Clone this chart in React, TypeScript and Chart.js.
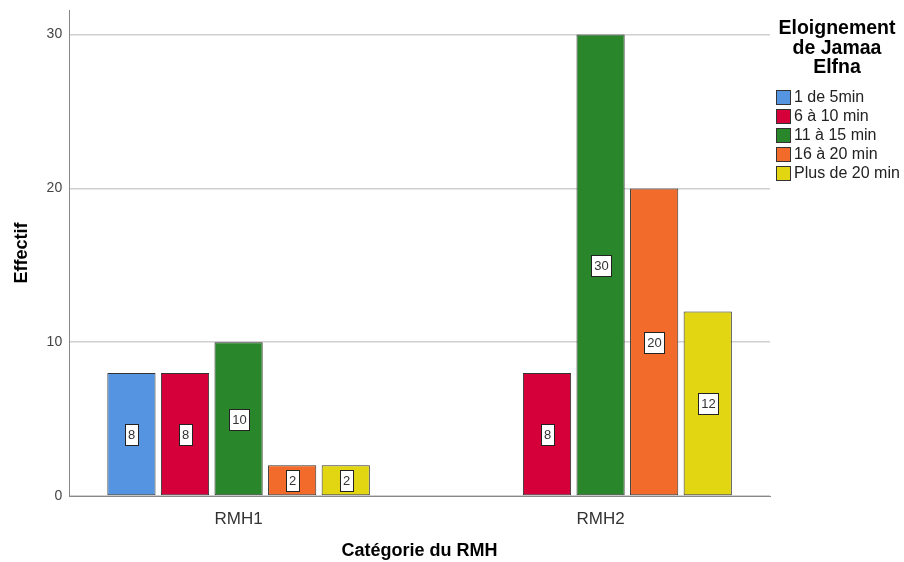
import React, { useEffect, useRef } from "react";
import { Chart, registerables } from "chart.js";

Chart.register(...registerables);

const categories = ["RMH1", "RMH2"];
const seriesNames = ["1 de 5min", "6 à 10 min", "11 à 15 min", "16 à 20 min", "Plus de 20 min"];
const series1 = [8, null];
const series2 = [8, 8];
const series3 = [10, 30];
const series4 = [2, 20];
const series5 = [2, 12];
const yTicks = [0, 10, 20, 30];
const legendTitle = ["Eloignement", "de Jamaa", "Elfna"];
const colors = ["#5594E0", "#D5003A", "#2A862A", "#F36B2B", "#E2D613"];

const FONT = "'Liberation Sans', Arial, sans-serif";

const valueLabelPlugin = {
  id: "valueLabels",
  afterDatasetsDraw(chart: any) {
    const ctx = chart.ctx;
    ctx.save();
    ctx.font = `13px ${FONT}`;
    ctx.textAlign = "center";
    ctx.textBaseline = "middle";
    chart.data.datasets.forEach((ds: any, i: number) => {
      const meta = chart.getDatasetMeta(i);
      meta.data.forEach((el: any, j: number) => {
        const v = ds.data[j];
        if (v === null || v === undefined) return;
        const txt = String(v);
        const w = Math.round(ctx.measureText(txt).width + 6);
        const h = 21;
        const cx = Math.round(el.x);
        const cy = Math.round((el.y + el.base) / 2);
        const x0 = Math.round(cx - w / 2);
        const y0 = Math.round(cy - h / 2);
        ctx.fillStyle = "#ffffff";
        ctx.fillRect(x0, y0, w, h);
        ctx.strokeStyle = "#222";
        ctx.lineWidth = 1;
        ctx.strokeRect(x0 + 0.5, y0 + 0.5, w, h);
        ctx.fillStyle = "#333";
        ctx.fillText(txt, cx + 0.5, cy + 1.5);
      });
    });
    ctx.restore();
  },
};

const legendPlugin = {
  id: "customLegend",
  afterDraw(chart: any) {
    const ctx = chart.ctx;
    ctx.save();
    ctx.fillStyle = "#000";
    ctx.font = `bold 19.5px ${FONT}`;
    ctx.textAlign = "center";
    ctx.textBaseline = "middle";
    const cx = 837;
    legendTitle.forEach((t, i) => ctx.fillText(t, cx, 29 + i * 19.5));
    ctx.font = `16px ${FONT}`;
    ctx.textAlign = "left";
    seriesNames.forEach((n, i) => {
      const y = 97 + i * 19;
      ctx.fillStyle = colors[i];
      ctx.fillRect(776, y - 7, 15, 15);
      ctx.strokeStyle = "#333";
      ctx.lineWidth = 1;
      ctx.strokeRect(776.5, y - 6.5, 14, 14);
      ctx.fillStyle = "#222";
      ctx.fillText(n, 794, y + 1);
    });
    ctx.restore();
  },
};

export default function App() {
  const ref = useRef<HTMLCanvasElement>(null);
  useEffect(() => {
    const values = [series1, series2, series3, series4, series5];
    const chart = new Chart(ref.current!, {
      type: "bar",
      data: {
        labels: categories,
        datasets: values.map((d, i) => ({
          label: seriesNames[i],
          data: d as any,
          backgroundColor: colors[i],
          borderColor: "#333",
          borderWidth: 1,
          borderSkipped: false,
          categoryPercentage: 0.74,
          barPercentage: 0.9,
        })),
      },
      options: {
        animation: false,
        responsive: false,
        maintainAspectRatio: false,
        layout: { padding: { top: 10, right: 134, left: 11, bottom: 0 } },
        plugins: { legend: { display: false }, tooltip: { enabled: false } },
        scales: {
          x: {
            afterBuildTicks: (scale: any) => {
              scale._startValue = -0.468;
              scale._valueRange = 1.936;
            },
            grid: { display: false },
            border: { display: true, color: "#888", width: 1 },
            ticks: { font: { family: FONT, size: 17 }, color: "#333", padding: 5 },
            title: {
              display: true,
              text: "Catégorie du RMH",
              font: { family: FONT, size: 18, weight: "bold" },
              color: "#000",
              padding: { top: 6, bottom: 0 },
            },
          },
          y: {
            min: 0,
            max: 31.6,
            afterBuildTicks: (scale: any) => {
              scale.ticks = yTicks.map((v) => ({ value: v }));
            },
            grid: { color: "#d0d0d0", lineWidth: 1.5, drawTicks: false },
            border: { display: true, color: "#888", width: 1 },
            ticks: { font: { family: FONT, size: 14, lineHeight: 0.3 }, color: "#444", padding: 7 },
            title: {
              display: true,
              text: "Effectif",
              font: { family: FONT, size: 18, weight: "bold" },
              color: "#000",
              padding: { top: 0, bottom: 7 },
            },
          },
        },
      },
      plugins: [valueLabelPlugin, legendPlugin],
    });
    return () => chart.destroy();
  }, []);
  return (
    <div style={{ position: "fixed", left: 0, top: 0, width: 904, height: 562, background: "#fff" }}>
      <canvas ref={ref} width={904} height={562} style={{ width: 904, height: 562 }} />
    </div>
  );
}
